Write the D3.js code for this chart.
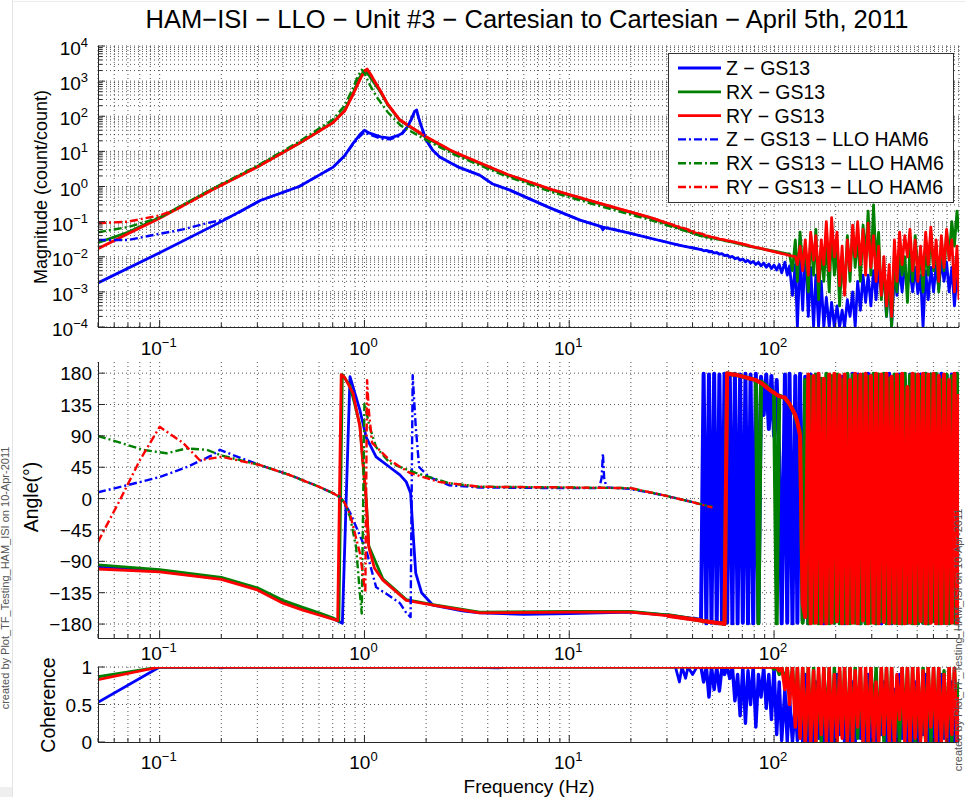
<!DOCTYPE html>
<html><head><meta charset="utf-8">
<script src="https://cdn.jsdelivr.net/npm/d3@7"></script>
<style>
body{margin:0;background:#fff}
svg{display:block}
text{font-family:"Liberation Sans",Arial,Helvetica,sans-serif;fill:#000}
</style>
</head><body>
<svg id="chart" width="966" height="797"></svg>
<script>
// ---------- text ----------
const titleText = "HAM\u2212ISI \u2212 LLO \u2212 Unit #3 \u2212 Cartesian to Cartesian \u2212 April 5th, 2011";
const seriesNames = ["Z \u2212 GS13", "RX \u2212 GS13", "RY \u2212 GS13",
  "Z \u2212 GS13 \u2212 LLO HAM6", "RX \u2212 GS13 \u2212 LLO HAM6", "RY \u2212 GS13 \u2212 LLO HAM6"];
const seriesColors = ["#0000ff", "#008000", "#ff0000", "#0000ff", "#008000", "#ff0000"];
const creditText = "created by Plot_TF_Testing_HAM_ISI on 10-Apr-2011";

// ---------- axes ----------
const freqLim = [0.05, 800];
const freqLabelExps = [-1, 0, 1, 2];
const magLim = [1e-4, 1e4];
const magLabelExps = [4, 3, 2, 1, 0, -1, -2, -3, -4];
const phaseLim = [-200, 196];
const phaseTicks = [180, 135, 90, 45, 0, -45, -90, -135, -180];
const cohLim = [0, 1];
const cohTicks = [1, 0.5, 0];

// ---------- magnitude (count/count), [Hz, value] ----------
const magZ = [[0.05,0.0018],[0.1,0.013],[0.2,0.1],[0.31,0.4],[0.48,1.0],[0.7,3.5],[0.8,7.5],[0.88,17],[0.95,30],[1.0,40],[1.06,33],[1.2,26],[1.33,24],[1.45,28],[1.53,33],[1.62,50],[1.69,80],[1.76,140],[1.8,150],[1.84,90],[1.9,50],[2.0,21],[2.15,11],[2.33,6.9],[2.9,3.5],[3.65,2.1],[4.2,1.2],[5.1,0.8],[8,0.25],[11.3,0.11],[14.6,0.07],[19.7,0.047],[27,0.03],[34.7,0.021]];
const magRX = [[0.05,0.025],[0.07,0.05],[0.1,0.13],[0.18,0.82],[0.3,3.7],[0.48,17],[0.7,66],[0.8,150],[0.88,450],[0.95,1300],[1.0,2000],[1.05,1500],[1.1,1000],[1.19,520],[1.3,210],[1.49,76],[2.0,25],[2.7,9.6],[3.65,4.5],[5,2.1],[8.3,0.78],[15,0.29],[25,0.125]];
const magRY = [[0.05,0.017],[0.07,0.045],[0.1,0.125],[0.18,0.8],[0.3,3.6],[0.48,17],[0.7,65],[0.8,140],[0.88,420],[0.95,1100],[1.0,1900],[1.03,2200],[1.07,1600],[1.12,1000],[1.19,560],[1.3,220],[1.49,78],[2.0,26],[2.7,10],[3.65,4.7],[5,2.2],[8.3,0.8],[15,0.3],[25,0.13]];
const magZh6 = [[0.05,0.03],[0.07,0.03],[0.1,0.045],[0.13,0.06],[0.17,0.09],[0.2,0.11],[0.23,0.15],[0.31,0.4],[0.48,1.0],[0.7,3.5],[0.8,7.5],[0.88,16],[0.95,27],[1.0,35],[1.06,30],[1.2,23],[1.33,22],[1.45,26],[1.53,32],[1.62,48],[1.69,78],[1.76,135],[1.8,145],[1.84,88],[1.9,48],[2.0,21],[2.15,11],[2.33,6.9],[2.9,3.5],[3.65,2.1],[4.2,1.2],[5.1,0.8],[8,0.25],[11.3,0.11],[14.2,0.073],[14.6,0.058],[15,0.07],[19.7,0.047],[27,0.03],[34.7,0.021],[50,0.014]];
const magRXh6 = [[0.05,0.05],[0.07,0.07],[0.1,0.13],[0.18,0.85],[0.3,3.9],[0.48,19],[0.7,80],[0.8,200],[0.88,650],[0.93,1400],[0.97,2100],[1.01,1500],[1.06,800],[1.15,350],[1.3,130],[1.5,55],[2.0,21],[2.7,8.5],[3.65,4],[5,1.9],[8.3,0.68],[15,0.25],[25,0.11],[50,0.031]];
const magRYh6 = [[0.05,0.09],[0.07,0.1],[0.1,0.15],[0.12,0.22],[0.14,0.35],[0.18,0.8],[0.3,3.6],[0.48,17],[0.7,65],[0.8,140],[0.88,420],[0.95,1100],[1.0,1900],[1.03,2200],[1.07,1600],[1.12,1000],[1.19,560],[1.3,220],[1.49,78],[2.0,26],[2.7,10],[3.65,4.7],[5,2.2],[8.3,0.8],[15,0.3],[25,0.13],[50,0.036]];

// ---------- phase (degrees) ----------
const phZ = [[0.05,-98],[0.1,-104],[0.2,-115],[0.3,-130],[0.4,-148],[0.5,-158],[0.6,-166],[0.7,-172],[0.78,-179],[0.85,175],[0.95,127],[1.02,88],[1.14,60],[1.33,45],[1.49,34],[1.6,24],[1.68,8],[1.72,-41],[1.78,-107],[1.9,-135],[2.16,-153],[3,-161],[3.65,-164],[6,-166],[10,-165],[20,-163],[30,-167],[40,-172]];
const phRX = [[0.05,-95],[0.1,-102],[0.2,-113],[0.3,-128],[0.4,-146],[0.5,-156],[0.6,-164],[0.7,-171],[0.75,-176],[0.78,178],[0.85,162],[0.95,106],[0.98,58],[1.02,0],[1.05,-68],[1.23,-115],[1.6,-145],[2.16,-152],[3.65,-163],[10,-162],[20,-162],[30,-167]];
const phRY = [[0.05,-101],[0.1,-105],[0.2,-116],[0.3,-131],[0.4,-150],[0.5,-160],[0.6,-167],[0.74,-175],[0.77,178],[0.8,174],[0.88,151],[0.95,103],[0.98,55],[1.02,-2],[1.05,-70],[1.12,-100],[1.23,-117],[1.6,-146],[2.16,-153],[3.65,-164],[10,-163],[20,-163],[30,-168]];
const phZh6 = [[0.05,9],[0.069,19],[0.1,31],[0.135,45],[0.18,62],[0.197,70],[0.23,62],[0.31,48],[0.43,34],[0.6,17],[0.7,8],[0.76,2],[0.8,-6],[0.85,-20],[1.02,-74],[1.14,-127],[1.3,-138],[1.49,-150],[1.6,-164],[1.68,-170],[1.72,177],[1.78,103],[1.85,45],[2.07,31],[2.6,19],[3.65,16],[10,15],[14,15],[14.4,30],[14.6,65],[14.8,30],[15.2,16],[19.7,14],[28.7,5],[40,-5],[50,-12]];
const phRXh6 = [[0.05,90],[0.083,70],[0.108,65],[0.135,72],[0.17,70],[0.2,62],[0.31,48],[0.43,34],[0.6,17],[0.7,8],[0.76,2],[0.8,-6],[0.85,-26],[0.91,-69],[0.95,-136],[0.97,-165],[1.0,137],[1.06,103],[1.14,74],[1.33,51],[1.78,37],[2.6,22],[3.65,17],[10,16],[20,15],[28.7,5],[40,-5],[50,-12]];
const phRYh6 = [[0.05,-62],[0.064,-2],[0.08,55],[0.1,103],[0.13,80],[0.157,55],[0.2,60],[0.31,48],[0.43,34],[0.6,17],[0.7,8],[0.76,2],[0.8,-6],[0.85,-22],[0.95,-78],[0.98,-107],[1.01,-135],[1.03,170],[1.05,127],[1.09,80],[1.33,55],[1.66,37],[2.3,24],[3.65,17],[10,16],[20,15],[28.7,5],[40,-5],[50,-13]];

// ---------- coherence ----------
const cohZ = [[0.05,0.53],[0.1,1],[0.19,0.995],[0.2,0.99],[0.21,0.995],[0.5,0.995],[3,0.998],[4.5,0.99],[5,1],[33,1],[34.5,0.8],[35.5,1],[37,0.85],[38,1],[40,0.9],[42,1]];
const cohRX = [[0.05,0.87],[0.1,1],[40,1]];
const cohRY = [[0.05,0.83],[0.1,1],[40,1]];

// ---------- high-frequency bins (Hz) and the GS13 readings in them ----------
const hfFreq = [44,45.3,46.7,48.1,49.5,51,52.5,54.1,55.7,57.3,59,60.8,62.6,64.4,66.4,68.3,70.4,72.5,74.6,76.8,79.1,81.5,83.9,86.4,89,91.6,94.3,97.1,100,103,106,109,113,116,119,123,127,130,134,138,142,147,151,156,160,165,170,175,180,186,191,197,203,209,215,221,228,235,242,249,256,264,272,280,288,297,306,315,324,334,344,354,365,375,387,398,410,422,435,448,461,475,489,504,519,534,550,566,583,601,619,637,656,676,696,716,738,760,782,800];

const magZHF = [0.016,0.0148,0.0152,0.0138,0.014,0.0128,0.0132,0.0118,0.0122,0.0108,0.0112,0.0098,0.0102,0.0088,0.0093,0.008,0.0086,0.0072,0.0079,0.0066,0.0074,0.006,0.007,0.0055,0.0066,0.005,0.0062,0.0046,0.0058,0.0042,0.006,0.0035,0.007,0.003,0.0055,0.0008,0.006,0.0001,0.01,0.0003,0.02,0.0002,0.005,0.0001,0.003,0.0001,0.002,0.0001,0.0007,0.0001,0.0005,0.0001,0.0004,0.0001,0.0003,0.0001,0.0006,0.0002,0.001,0.0001,0.002,0.0003,0.003,0.0005,0.003,0.0004,0.004,0.0006,0.005,0.001,0.004,0.0002,0.003,0.0001,0.004,0.0008,0.005,0.001,0.006,0.0015,0.004,0.001,0.005,0.0009,0.003,0.0001,0.004,0.0006,0.005,0.001,0.006,0.0012,0.008,0.002,0.007,0.001,0.005,0.0004,0.003,0.001];
const magRXHF = [0.04,0.039,0.037,0.036,0.035,0.034,0.032,0.031,0.03,0.029,0.028,0.027,0.026,0.025,0.024,0.023,0.022,0.021,0.02,0.0195,0.019,0.018,0.0175,0.017,0.0165,0.016,0.0155,0.015,0.0145,0.014,0.0135,0.013,0.0125,0.012,0.012,0.004,0.03,0.002,0.05,0.005,0.02,0.001,0.04,0.003,0.06,0.0006,0.02,0.002,0.03,0.001,0.05,0.003,0.02,0.0004,0.01,0.001,0.04,0.002,0.06,0.005,0.04,0.002,0.08,0.01,0.2,0.003,0.3,0.006,0.05,0.0006,0.005,0.0002,0.003,0.0001,0.008,0.001,0.02,0.003,0.01,0.0005,0.02,0.002,0.04,0.004,0.01,0.001,0.02,0.003,0.05,0.004,0.02,0.001,0.03,0.004,0.05,0.01,0.1,0.02,0.2,0.05];
const magRYHF = [0.042,0.041,0.039,0.038,0.036,0.035,0.034,0.032,0.031,0.03,0.029,0.028,0.027,0.026,0.025,0.024,0.023,0.022,0.021,0.02,0.019,0.0185,0.018,0.0172,0.0165,0.0158,0.0151,0.0145,0.0139,0.0133,0.0128,0.0123,0.0118,0.0113,0.0109,0.0105,0.0101,0.006,0.02,0.004,0.03,0.003,0.05,0.008,0.04,0.002,0.03,0.006,0.1,0.004,0.13,0.01,0.05,0.0015,0.02,0.0008,0.03,0.004,0.08,0.01,0.1,0.006,0.06,0.003,0.09,0.005,0.04,0.002,0.02,0.0008,0.01,0.0004,0.006,0.0002,0.03,0.002,0.05,0.006,0.04,0.01,0.06,0.004,0.03,0.002,0.02,0.003,0.05,0.006,0.07,0.005,0.03,0.002,0.04,0.005,0.06,0.008,0.03,0.001,0.02,0.0006];

const phZHF = [-174,179,-179,178,-178,179,-179,178,-179,179,-178,178,-179,179,-179,178,-178,179,-179,178,-179,179,-178,175,120,178,100,176,90,170,60,-179,178,-178,179,-179,176,-178,179,-175,175,-179,178,-176,170,-178,160,-179,150,-170,170,-178,177,-150,175,-179,178,-178,179,-170,178,-179,176,-178,179,-160,178,-179,170,-179,178,-178,179,-179,160,-175,178,-179,170,-178,178,-160,175,-179,178,-178,179,-179,178,-170,178,-179,179,-178,177,-179,178,-175,179,-179];
const phRXHF = [-175,-176,-176,-177,-177,-178,-178,-179,-179,-180,180,179,178,178,177,176,175,174,173,172,171,170,-179,168,165,162,158,155,152,-179,148,146,144,140,135,128,118,108,96,-178,170,-179,175,-178,178,-179,172,-176,179,-179,176,-178,178,-179,170,-178,179,-179,177,-178,176,-179,178,-179,175,-178,179,-179,178,-176,179,-179,172,-178,178,-179,176,-179,179,-178,177,-179,178,-179,175,-178,179,-179,178,-176,179,-179,170,-178,178,-179,176,-178,179,-179];
const phRYHF = [-175,-176,-176,-177,-177,-178,-178,-179,-179,-180,180,179,178,178,177,176,175,174,173,172,171,170,168,166,163,160,157,154,152,149,147,146,145,140,136,128,120,110,90,-150,-170,178,-179,176,-178,179,-179,172,-179,178,-178,179,-176,177,-179,178,-179,170,-178,179,-179,178,-175,179,-179,176,-178,179,-179,178,-177,179,-179,175,-178,178,-179,179,-179,160,-178,179,-179,178,-176,179,-179,178,-178,179,-179,176,-179,178,-179,170,-178,179,-179,150];

const cohZHF = [1,0.8,1,0.6,1,0.7,1,0.68,1,0.9,1,0.85,1,0.55,0.9,0.35,1,0.25,0.95,0.5,1,0.2,0.9,0.6,1,0.45,0.9,0.3,1,0.1,0.8,0.02,0.7,0.01,0.6,0,0.5,0.02,0.4,0.01,0.9,0,0.6,0,0.8,0.05,0.5,0,0.7,0,0.4,0,0.9,0.1,0.6,0,0.3,0,0.8,0,0.7,0.05,0.5,0,0.9,0,0.4,0,0.6,0.1,0.8,0,0.3,0,0.7,0,0.9,0.05,0.5,0,0.6,0,0.8,0,0.4,0.1,0.9,0,0.7,0,0.5,0,0.9,0.05,0.6,0,0.8,0,0.4,0];
const cohRXHF = [1,1,1,1,1,1,1,1,1,1,1,1,1,1,1,1,1,1,1,1,1,1,1,1,1,1,1,1,0.97,1,0.9,1,0.8,1,0.6,1,0.4,1,0.1,1,0,1,0.05,1,0,0.9,0,1,0.2,1,0,1,0,0.95,0.1,1,0,1,0,1,0.05,1,0,0.9,0,1,0.3,1,0,1,0,1,0.1,1,0,0.8,0,1,0.2,1,0,1,0,0.9,0.05,1,0,1,0,1,0.1,1,0,0.95,0,1,0,1,0.2,0.8];
const cohRYHF = [1,1,1,1,1,1,1,1,1,1,1,1,1,1,1,1,1,1,1,1,1,1,1,1,1,1,1,1,1,1,0.95,1,0.7,1,0.5,1,0.2,1,0.05,1,0,1,0,0.95,0,1,0.1,1,0,1,0,0.9,0,1,0.05,1,0,1,0,0.95,0.2,1,0,1,0,1,0,0.8,0,1,0.1,1,0,1,0,0.9,0.3,1,0,1,0,1,0.05,1,0,0.95,0,1,0.2,1,0,1,0,0.9,0,1,0.1,1,0,0.6];

// ---------- assembly: each GS13 trace is its swept part followed by its high-frequency bins ----------
const hfPoints = vals => hfFreq.map((f, i) => [f, vals[i]]);
const magSeries = [[magZ, magZHF], [magRX, magRXHF], [magRY, magRYHF], [magZh6], [magRXh6], [magRYh6]];
const phaseSeries = [[phZ, phZHF], [phRX, phRXHF], [phRY, phRYHF], [phZh6], [phRXh6], [phRYh6]];
const cohSeries = [[cohZ, cohZHF], [cohRX, cohRXHF], [cohRY, cohRYHF]];

const svg = d3.select("#chart");
const W = 966, H = 797;
const L = 98, R = 959;
const x = d3.scaleLog().domain(freqLim).range([L, R]);

const panels = [
  {id: "mag", top: 46, bottom: 327, y: d3.scaleLog().domain(magLim).range([327, 46]), series: magSeries, labelY: 355, hfWidth: 2.8},
  {id: "phase", top: 362, bottom: 638, y: d3.scaleLinear().domain(phaseLim).range([638, 362]), series: phaseSeries, labelY: 660, hfWidth: 4},
  {id: "coh", top: 667, bottom: 742, y: d3.scaleLinear().domain(cohLim).range([742, 667]), series: cohSeries, labelY: 769, hfWidth: 3.4}
];

// page frame
svg.append("rect").attr("x", 0).attr("y", 0).attr("width", W).attr("height", H).attr("fill", "#fff");
svg.append("line").attr("x1", 12.5).attr("x2", 12.5).attr("y1", 0).attr("y2", H).attr("stroke", "#e4e4e4");
svg.append("line").attr("x1", 12).attr("x2", W).attr("y1", 1.5).attr("y2", 1.5).attr("stroke", "#ececec");
svg.append("rect").attr("x", 0).attr("y", 787).attr("width", 12).attr("height", 10).attr("fill", "#efefef");

const defs = svg.append("defs");
const xTicks = x.ticks();
const isDecade = v => Math.abs(Math.log10(v) - Math.round(Math.log10(v))) < 1e-6;
const gridStyle = s => s.attr("stroke", "#222").attr("stroke-width", 0.9).attr("stroke-dasharray", "1,3").attr("opacity", 0.85);

function powLabel(g, exp, px, py, anchor) {
  const t = g.append("text").attr("x", px).attr("y", py).attr("text-anchor", anchor).attr("font-size", 19);
  t.append("tspan").text("10");
  t.append("tspan").attr("dy", -8).attr("font-size", 13).text(exp < 0 ? "\u2212" + (-exp) : String(exp));
}

panels.forEach(p => {
  const g = svg.append("g");
  // grid
  const grid = g.append("g");
  xTicks.forEach(f => {
    grid.append("line").attr("x1", x(f)).attr("x2", x(f)).attr("y1", p.top).attr("y2", p.bottom).call(gridStyle);
  });
  let hGrid;
  if (p.id === "mag") hGrid = p.y.ticks();
  else if (p.id === "phase") hGrid = phaseTicks;
  else hGrid = cohTicks.filter(v => v > 0);
  hGrid.forEach(v => {
    grid.append("line").attr("x1", L).attr("x2", R).attr("y1", p.y(v)).attr("y2", p.y(v)).call(gridStyle);
  });

  // traces
  defs.append("clipPath").attr("id", "clip-" + p.id)
    .append("rect").attr("x", L).attr("y", p.top).attr("width", R - L).attr("height", p.bottom - p.top);
  const line = d3.line().defined(d => d[1] != null).x(d => x(d[0])).y(d => p.y(d[1]));
  const plot = g.append("g").attr("clip-path", "url(#clip-" + p.id + ")");
  p.series.forEach(([swept, hf], i) => {
    const style = sel => sel.attr("fill", "none").attr("stroke", seriesColors[i])
      .attr("stroke-linejoin", "round")
      .attr("stroke-dasharray", i < 3 ? null : "8,3,2,3");
    plot.append("path").datum(swept).attr("d", line).attr("stroke-width", i < 3 ? 2.8 : 2.4).call(style);
    if (hf) {
      const pts = [swept[swept.length - 1]].concat(hfPoints(hf));
      plot.append("path").datum(pts).attr("d", line).attr("stroke-width", p.hfWidth).call(style);
    }
  });

  // axes
  const ax = g.append("g").attr("stroke", "#262626").attr("stroke-width", 1);
  ax.append("line").attr("x1", L).attr("x2", R).attr("y1", p.bottom + 0.5).attr("y2", p.bottom + 0.5);
  ax.append("line").attr("x1", L + 0.5).attr("x2", L + 0.5).attr("y1", p.top).attr("y2", p.bottom + 1);
  xTicks.forEach(f => {
    const len = isDecade(f) ? 7 : 4;
    ax.append("line").attr("x1", x(f)).attr("x2", x(f)).attr("y1", p.bottom).attr("y2", p.bottom - len);
  });
  if (p.id === "mag") {
    p.y.ticks().forEach(v => {
      const len = isDecade(v) ? 7 : 4;
      ax.append("line").attr("x1", L).attr("x2", L + len).attr("y1", p.y(v)).attr("y2", p.y(v));
    });
    magLabelExps.forEach(e => powLabel(g, e, 88, p.y(Math.pow(10, e)) + 9, "end"));
  } else {
    const ticks = p.id === "phase" ? phaseTicks : cohTicks;
    ticks.forEach(v => {
      ax.append("line").attr("x1", L).attr("x2", L + 7).attr("y1", p.y(v)).attr("y2", p.y(v));
      g.append("text").attr("x", 92).attr("y", p.y(v) + 7).attr("text-anchor", "end")
        .attr("font-size", 19).text(String(v).replace("-", "\u2212"));
    });
  }
  freqLabelExps.forEach(e => powLabel(g, e, x(Math.pow(10, e)) - 1, p.labelY, "middle"));
});

// titles
svg.append("text").attr("x", 527).attr("y", 28).attr("text-anchor", "middle").attr("font-size", 25.5).text(titleText);
svg.append("text").attr("transform", "translate(47,187) rotate(-90)").attr("text-anchor", "middle").attr("font-size", 18).text("Magnitude (count/count)");
svg.append("text").attr("transform", "translate(38,497) rotate(-90)").attr("text-anchor", "middle").attr("font-size", 19.5).text("Angle(\u00b0)");
svg.append("text").attr("transform", "translate(55,705) rotate(-90)").attr("text-anchor", "middle").attr("font-size", 19.5).text("Coherence");
svg.append("text").attr("x", 529).attr("y", 793).attr("text-anchor", "middle").attr("font-size", 19).text("Frequency (Hz)");

// side credits
svg.append("text").attr("transform", "translate(9,578) rotate(-90)").attr("text-anchor", "middle").attr("font-size", 11).style("fill", "#555").text(creditText);
svg.append("text").attr("transform", "translate(962,640) rotate(-90)").attr("text-anchor", "middle").attr("font-size", 11).style("fill", "#555").text(creditText);

// legend
const lg = svg.append("g");
lg.append("rect").attr("x", 668.5).attr("y", 53.5).attr("width", 285).attr("height", 149).attr("fill", "#fff").attr("stroke", "#333");
seriesNames.forEach((name, i) => {
  const yy = 68 + i * 23.8;
  lg.append("line").attr("x1", 678).attr("x2", 721).attr("y1", yy).attr("y2", yy)
    .attr("stroke", seriesColors[i]).attr("stroke-width", i < 3 ? 2.8 : 2.4)
    .attr("stroke-dasharray", i < 3 ? null : "8,3,2,3");
  lg.append("text").attr("x", 726).attr("y", yy + 7).attr("font-size", 19.5).text(name);
});
</script>
</body></html>
